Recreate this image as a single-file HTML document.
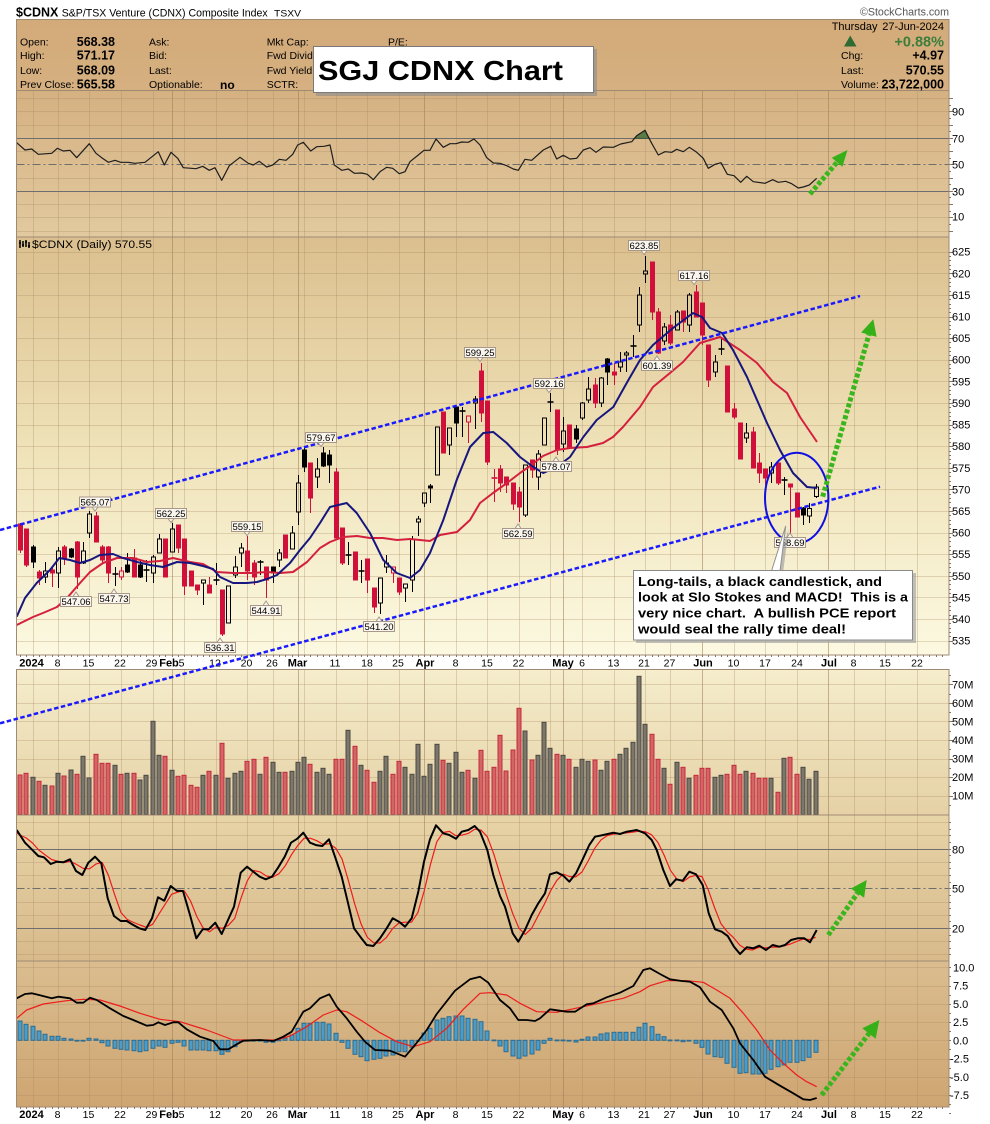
<!DOCTYPE html>
<html><head><meta charset="utf-8">
<style>
html,body{margin:0;padding:0;background:#fff;width:990px;height:1124px;overflow:hidden}
svg{display:block}
text{font-family:"Liberation Sans",Arial,sans-serif;fill:#000}
.ax{font-size:11px}
.dl{font-size:10.5px}
.mb{font-size:11px;font-weight:bold}
.hl{font-size:10.5px}
.hv{font-size:12.5px;font-weight:bold}
.lb{font-size:9.5px}
.co{font-size:13px;font-weight:bold}
</style></head><body>
<svg id="c" xmlns="http://www.w3.org/2000/svg" width="990" height="1124" viewBox="0 0 990 1124">
<defs>
<linearGradient id="gH" x1="0" y1="0" x2="0" y2="1"><stop offset="0" stop-color="#d3aa79"/><stop offset="1" stop-color="#d6b081"/></linearGradient>
<linearGradient id="gR" x1="0" y1="0" x2="0" y2="1"><stop offset="0" stop-color="#d5b181"/><stop offset="1" stop-color="#e2c99f"/></linearGradient>
<linearGradient id="gP" x1="0" y1="0" x2="0" y2="1"><stop offset="0" stop-color="#dbbf8e"/><stop offset="0.5" stop-color="#efe2b8"/><stop offset="1" stop-color="#fcf9e1"/></linearGradient>
<linearGradient id="gV" x1="0" y1="0" x2="0" y2="1"><stop offset="0" stop-color="#f5edcc"/><stop offset="1" stop-color="#e5d1a5"/></linearGradient>
<linearGradient id="gS" x1="0" y1="0" x2="0" y2="1"><stop offset="0" stop-color="#e7d4a7"/><stop offset="1" stop-color="#d8ba8b"/></linearGradient>
<linearGradient id="gM" x1="0" y1="0" x2="0" y2="1"><stop offset="0" stop-color="#dabd8f"/><stop offset="1" stop-color="#cea572"/></linearGradient>
</defs>

<!-- panel backgrounds -->
<rect x="16.5" y="19.5" width="932.5" height="71" fill="url(#gH)"/>
<rect x="16.5" y="90.5" width="932.5" height="146.5" fill="url(#gR)"/>
<rect x="16.5" y="237" width="932.5" height="418" fill="url(#gP)"/>
<rect x="16.5" y="669.5" width="932.5" height="145.5" fill="url(#gV)"/>
<rect x="16.5" y="815" width="932.5" height="146" fill="url(#gS)"/>
<rect x="16.5" y="961" width="932.5" height="146" fill="url(#gM)"/>

<g id="grid"></g>

<!-- level lines -->
<g stroke="#6e6e6e" stroke-width="1">
<line x1="16.5" x2="949" y1="138.5" y2="138.5"/>
<line x1="16.5" x2="949" y1="191.5" y2="191.5"/>
<line x1="16.5" x2="949" y1="164.5" y2="164.5" stroke-dasharray="8 3 2 3"/>
<line x1="16.5" x2="949" y1="849.5" y2="849.5"/>
<line x1="16.5" x2="949" y1="928.5" y2="928.5"/>
<line x1="16.5" x2="949" y1="888.5" y2="888.5" stroke-dasharray="8 3 2 3"/>
</g>
<polygon points="634.5,138.3 636.7,135.7 645,130.3 649.1,138.3" fill="#5c7a46" stroke="#3d5230" stroke-width="0.8"/>

<g id="ser"></g>
<g id="cand"></g>
<g id="ma"></g>

<!-- panel borders -->
<g fill="none" stroke="#a08a74" stroke-width="1">
<rect x="16.5" y="19.5" width="932.5" height="71"/>
<rect x="16.5" y="90.5" width="932.5" height="146.5"/>
<rect x="16.5" y="237" width="932.5" height="418"/>
<rect x="16.5" y="669.5" width="932.5" height="145.5"/>
<rect x="16.5" y="815" width="932.5" height="146"/>
<rect x="16.5" y="961" width="932.5" height="146"/>
</g>
<g id="ticks"></g>

<!-- right axis labels -->
<g class="ax">
<text x="952" y="115.7">90</text><text x="952" y="142.3">70</text><text x="952" y="168.3">50</text><text x="952" y="195.3">30</text><text x="952" y="220.7">10</text>
<text x="952" y="255.7">625</text><text x="952" y="277.3">620</text><text x="952" y="298.9">615</text><text x="952" y="320.5">610</text><text x="952" y="342.1">605</text><text x="952" y="363.7">600</text><text x="952" y="385.4">595</text><text x="952" y="407">590</text><text x="952" y="428.6">585</text><text x="952" y="450.2">580</text><text x="952" y="471.8">575</text><text x="952" y="493.4">570</text><text x="952" y="515">565</text><text x="952" y="536.6">560</text><text x="952" y="558.2">555</text><text x="952" y="579.8">550</text><text x="952" y="601.5">545</text><text x="952" y="623.1">540</text><text x="952" y="644.7">535</text>
<text x="952" y="688.3">70M</text><text x="952" y="706.9">60M</text><text x="952" y="725.4">50M</text><text x="952" y="744">40M</text><text x="952" y="762.6">30M</text><text x="952" y="781.1">20M</text><text x="952" y="799.7">10M</text>
<text x="952" y="853.3">80</text><text x="952" y="892.3">50</text><text x="952" y="932.3">20</text>
<text x="953" y="971.3">10.0</text><text x="953" y="989.6">7.5</text><text x="953" y="1007.8">5.0</text><text x="953" y="1026.1">2.5</text><text x="953" y="1044.3">0.0</text><text x="950" y="1062.6">-2.5</text><text x="950" y="1080.8">-5.0</text><text x="950" y="1099.1">-7.5</text>
</g>

<!-- date labels (middle row) -->
<g text-anchor="middle">
<text class="mb" x="31.5" y="666.5">2024</text><text class="dl" x="57.5" y="666.5">8</text><text class="dl" x="88.5" y="666.5">15</text><text class="dl" x="120" y="666.5">22</text><text class="dl" x="151.5" y="666.5">29</text><text class="mb" x="169" y="666.5">Feb</text><text class="dl" x="181.5" y="666.5">5</text><text class="dl" x="215" y="666.5">12</text><text class="dl" x="246.5" y="666.5">20</text><text class="dl" x="272" y="666.5">26</text><text class="mb" x="297.5" y="666.5">Mar</text><text class="dl" x="335" y="666.5">11</text><text class="dl" x="367" y="666.5">18</text><text class="dl" x="398" y="666.5">25</text><text class="mb" x="425" y="666.5">Apr</text><text class="dl" x="455.5" y="666.5">8</text><text class="dl" x="487" y="666.5">15</text><text class="dl" x="518.5" y="666.5">22</text><text class="mb" x="563" y="666.5">May</text><text class="dl" x="582" y="666.5">6</text><text class="dl" x="613.5" y="666.5">13</text><text class="dl" x="644" y="666.5">21</text><text class="dl" x="669.5" y="666.5">27</text><text class="mb" x="703" y="666.5">Jun</text><text class="dl" x="733.5" y="666.5">10</text><text class="dl" x="765" y="666.5">17</text><text class="dl" x="797" y="666.5">24</text><text class="mb" x="829" y="666.5">Jul</text><text class="dl" x="853.5" y="666.5">8</text><text class="dl" x="885" y="666.5">15</text><text class="dl" x="917" y="666.5">22</text>
</g>
<!-- date labels (bottom row) -->
<g text-anchor="middle">
<text class="mb" x="31.5" y="1118">2024</text><text class="dl" x="57.5" y="1118">8</text><text class="dl" x="88.5" y="1118">15</text><text class="dl" x="120" y="1118">22</text><text class="dl" x="151.5" y="1118">29</text><text class="mb" x="169" y="1118">Feb</text><text class="dl" x="181.5" y="1118">5</text><text class="dl" x="215" y="1118">12</text><text class="dl" x="246.5" y="1118">20</text><text class="dl" x="272" y="1118">26</text><text class="mb" x="297.5" y="1118">Mar</text><text class="dl" x="335" y="1118">11</text><text class="dl" x="367" y="1118">18</text><text class="dl" x="398" y="1118">25</text><text class="mb" x="425" y="1118">Apr</text><text class="dl" x="455.5" y="1118">8</text><text class="dl" x="487" y="1118">15</text><text class="dl" x="518.5" y="1118">22</text><text class="mb" x="563" y="1118">May</text><text class="dl" x="582" y="1118">6</text><text class="dl" x="613.5" y="1118">13</text><text class="dl" x="644" y="1118">21</text><text class="dl" x="669.5" y="1118">27</text><text class="mb" x="703" y="1118">Jun</text><text class="dl" x="733.5" y="1118">10</text><text class="dl" x="765" y="1118">17</text><text class="dl" x="797" y="1118">24</text><text class="mb" x="829" y="1118">Jul</text><text class="dl" x="853.5" y="1118">8</text><text class="dl" x="885" y="1118">15</text><text class="dl" x="917" y="1118">22</text>
</g>

<!-- price panel legend -->
<path d="M20 240v8M23 241v6M26 240v7M29 242v6M19 243h2M22 245h2M25 242h2M28 246h2" stroke="#000" stroke-width="1.5"/>
<text x="32" y="248" style="font-size:11px" textLength="120" lengthAdjust="spacingAndGlyphs">$CDNX (Daily) 570.55</text>

<!-- trend lines -->
<g stroke="#1a1aff" stroke-width="2.5" stroke-dasharray="4.5 2.5" fill="none">
<line x1="0" y1="530" x2="860" y2="296"/>
<line x1="0" y1="723.3" x2="880" y2="486.7"/>
</g>
<ellipse cx="796.7" cy="498" rx="31.7" ry="45.3" fill="none" stroke="#1010e0" stroke-width="2"/>

<!-- price labels -->
<g id="lbls">
<g><rect x="79.5" y="497" width="31" height="10" fill="#faf6ee" stroke="#a8988a"/><polygon points="92,507 98,507 95,511" fill="#faf6ee" stroke="#a8988a"/><text class="lb" x="95" y="505.5" text-anchor="middle">565.07</text></g>
<g><rect x="60.5" y="596.5" width="31" height="10" fill="#faf6ee" stroke="#a8988a"/><polygon points="73,596.5 79,596.5 76,592" fill="#faf6ee" stroke="#a8988a"/><text class="lb" x="76" y="605" text-anchor="middle">547.06</text></g>
<g><rect x="98.5" y="593.5" width="31" height="10" fill="#faf6ee" stroke="#a8988a"/><polygon points="111,593.5 117,593.5 114,589" fill="#faf6ee" stroke="#a8988a"/><text class="lb" x="114" y="602" text-anchor="middle">547.73</text></g>
<g><rect x="155.5" y="508.5" width="31" height="10" fill="#faf6ee" stroke="#a8988a"/><polygon points="168,518.5 174,518.5 171,522.5" fill="#faf6ee" stroke="#a8988a"/><text class="lb" x="171" y="517" text-anchor="middle">562.25</text></g>
<g><rect x="231.5" y="521.5" width="31" height="10" fill="#faf6ee" stroke="#a8988a"/><polygon points="244,531.5 250,531.5 247,535.5" fill="#faf6ee" stroke="#a8988a"/><text class="lb" x="247" y="530" text-anchor="middle">559.15</text></g>
<g><rect x="204.5" y="642.5" width="31" height="10" fill="#faf6ee" stroke="#a8988a"/><polygon points="217,642.5 223,642.5 220,638" fill="#faf6ee" stroke="#a8988a"/><text class="lb" x="220" y="651" text-anchor="middle">536.31</text></g>
<g><rect x="250.5" y="605.5" width="31" height="10" fill="#faf6ee" stroke="#a8988a"/><polygon points="263,605.5 269,605.5 266,601" fill="#faf6ee" stroke="#a8988a"/><text class="lb" x="266" y="614" text-anchor="middle">544.91</text></g>
<g><rect x="305.5" y="432.5" width="31" height="10" fill="#faf6ee" stroke="#a8988a"/><polygon points="318,442.5 324,442.5 321,446.5" fill="#faf6ee" stroke="#a8988a"/><text class="lb" x="321" y="441" text-anchor="middle">579.67</text></g>
<g><rect x="363.5" y="621.5" width="31" height="10" fill="#faf6ee" stroke="#a8988a"/><polygon points="376,621.5 382,621.5 379,617" fill="#faf6ee" stroke="#a8988a"/><text class="lb" x="379" y="630" text-anchor="middle">541.20</text></g>
<g><rect x="464.5" y="347.5" width="31" height="10" fill="#faf6ee" stroke="#a8988a"/><polygon points="477,357.5 483,357.5 480,361.5" fill="#faf6ee" stroke="#a8988a"/><text class="lb" x="480" y="356" text-anchor="middle">599.25</text></g>
<g><rect x="533.5" y="378.5" width="31" height="10" fill="#faf6ee" stroke="#a8988a"/><polygon points="546,388.5 552,388.5 549,392.5" fill="#faf6ee" stroke="#a8988a"/><text class="lb" x="549" y="387" text-anchor="middle">592.16</text></g>
<g><rect x="540.5" y="461.5" width="31" height="10" fill="#faf6ee" stroke="#a8988a"/><polygon points="553,461.5 559,461.5 556,457" fill="#faf6ee" stroke="#a8988a"/><text class="lb" x="556" y="470" text-anchor="middle">578.07</text></g>
<g><rect x="502.5" y="528.5" width="31" height="10" fill="#faf6ee" stroke="#a8988a"/><polygon points="515,528.5 521,528.5 518,524" fill="#faf6ee" stroke="#a8988a"/><text class="lb" x="518" y="537" text-anchor="middle">562.59</text></g>
<g><rect x="628.5" y="240.5" width="31" height="10" fill="#faf6ee" stroke="#a8988a"/><polygon points="641,250.5 647,250.5 644,254.5" fill="#faf6ee" stroke="#a8988a"/><text class="lb" x="644" y="249" text-anchor="middle">623.85</text></g>
<g><rect x="641.5" y="360.5" width="31" height="10" fill="#faf6ee" stroke="#a8988a"/><polygon points="654,360.5 660,360.5 657,356" fill="#faf6ee" stroke="#a8988a"/><text class="lb" x="657" y="369" text-anchor="middle">601.39</text></g>
<g><rect x="678.5" y="270.5" width="31" height="10" fill="#faf6ee" stroke="#a8988a"/><polygon points="691,280.5 697,280.5 694,284.5" fill="#faf6ee" stroke="#a8988a"/><text class="lb" x="694" y="279" text-anchor="middle">617.16</text></g>
<g><rect x="774.5" y="537.5" width="31" height="10" fill="#faf6ee" stroke="#a8988a"/><polygon points="787,537.5 793,537.5 790,533" fill="#faf6ee" stroke="#a8988a"/><text class="lb" x="790" y="546" text-anchor="middle">558.69</text></g>
</g>

<!-- callout -->
<polygon points="774.5,573 783,573 788.7,529" fill="#9a9a9a" opacity="0.6"/>
<polygon points="771.5,571 780,571 785.7,526" fill="#fff" stroke="#909090" stroke-width="1"/>
<rect x="636" y="573" width="280" height="70" fill="#a8a8a8" opacity="0.7"/>
<rect x="633.5" y="570.5" width="279" height="69.5" fill="#fff" stroke="#8a8a8a" stroke-width="1"/>
<text class="co" x="638" y="586" textLength="244" lengthAdjust="spacingAndGlyphs">Long-tails, a black candlestick, and</text>
<text class="co" x="638" y="601.5" textLength="270" lengthAdjust="spacingAndGlyphs" xml:space="preserve">look at Slo Stokes and MACD!  This is a</text>
<text class="co" x="638" y="617.5" textLength="258" lengthAdjust="spacingAndGlyphs" xml:space="preserve">very nice chart.  A bullish PCE report</text>
<text class="co" x="638" y="633.5" textLength="208" lengthAdjust="spacingAndGlyphs">would seal the rally time deal!</text>

<!-- green arrows -->
<g stroke="#3ab51c" stroke-width="5" stroke-dasharray="4 2.2" fill="none">
<line x1="810" y1="194" x2="837.1" y2="162.2"/>
<line x1="822.7" y1="496.7" x2="868.9" y2="334.7"/>
<line x1="828.3" y1="935" x2="857.5" y2="893.1"/>
<line x1="821.7" y1="1095" x2="869" y2="1033.5"/>
</g>
<g fill="#35b018">
<polygon points="847.5,150 842.4,166.7 831.8,157.7"/>
<polygon points="873.3,319.3 876.6,336.9 861.2,332.5"/>
<polygon points="866.7,880 864.1,897.7 850.9,888.5"/>
<polygon points="879.3,1020 875.7,1038.7 862.3,1028.3"/>
</g>

<!-- title -->
<text x="16" y="16.5" style="font-size:12.5px;font-weight:bold">$CDNX</text>
<text x="61.7" y="16.5" style="font-size:11px" textLength="206" lengthAdjust="spacingAndGlyphs">S&amp;P/TSX Venture (CDNX) Composite Index</text>
<text x="274" y="16.5" style="font-size:9.5px" textLength="27" lengthAdjust="spacingAndGlyphs">TSXV</text>
<text x="860" y="15.5" style="font-size:10.7px;fill:#555" textLength="89" lengthAdjust="spacingAndGlyphs">©StockCharts.com</text>

<!-- header left -->
<text class="hl" x="20" y="45.5">Open:</text><text class="hv" x="115" y="46" text-anchor="end">568.38</text>
<text class="hl" x="20" y="59">High:</text><text class="hv" x="115" y="59.5" text-anchor="end">571.17</text>
<text class="hl" x="20" y="74">Low:</text><text class="hv" x="115" y="74.5" text-anchor="end">568.09</text>
<text class="hl" x="20" y="88">Prev Close:</text><text class="hv" x="115" y="88.5" text-anchor="end">565.58</text>
<text class="hl" x="149" y="45.5">Ask:</text>
<text class="hl" x="149" y="59">Bid:</text>
<text class="hl" x="149" y="74">Last:</text>
<text class="hl" x="149" y="88">Optionable:</text><text class="hv" x="220" y="89" style="font-size:12px">no</text>
<text class="hl" x="266.7" y="45.5">Mkt Cap:</text>
<text class="hl" x="266.7" y="59">Fwd Dividend:</text>
<text class="hl" x="266.7" y="74">Fwd Yield:</text>
<text class="hl" x="266.7" y="88">SCTR:</text>
<text class="hl" x="388" y="45.5">P/E:</text>

<!-- header right -->
<text x="831.7" y="30" style="font-size:11px">Thursday</text>
<text x="944" y="30" style="font-size:11px" text-anchor="end">27-Jun-2024</text>
<polygon points="844,46.5 856.5,46.5 850.25,35.5" fill="#2f6a30"/>
<text x="944" y="46.5" text-anchor="end" style="font-size:14.5px;font-weight:bold;fill:#3b7d3b">+0.88%</text>
<text class="hl" x="841" y="59">Chg:</text><text class="hv" x="944" y="59.5" text-anchor="end">+4.97</text>
<text class="hl" x="841" y="74">Last:</text><text class="hv" x="944" y="74.5" text-anchor="end">570.55</text>
<text class="hl" x="841" y="88">Volume:</text><text class="hv" x="944" y="88.5" text-anchor="end">23,722,000</text>

<!-- SGJ box -->
<rect x="316" y="49" width="281" height="47" fill="#8c8c8c" opacity="0.6"/>
<rect x="313.5" y="46.5" width="280" height="46" fill="#fff" stroke="#7a7a7a"/>
<text x="318" y="80" style="font-size:28px;font-weight:bold" textLength="245" lengthAdjust="spacingAndGlyphs">SGJ CDNX Chart</text>
</svg>

<script>
(function(){
var NS="http://www.w3.org/2000/svg";
function E(p,t,a){var e=document.createElementNS(NS,t);for(var k in a)e.setAttribute(k,a[k]);document.getElementById(p).appendChild(e);return e;}
function X(k){return 20+6.315*k;}
function GX(i){return 32.63+6.315*i;}
function R(v){return Math.round(v)+0.5;}
// vertical grid
var panels=[[90.5,237],[237,655],[669.5,815],[815,961],[961,1107]];
var wk=[0,4,9,14,19,24,29,34,38,43,48,53,58,67,72,77,82,87,92,97,101,111,116,121,130,135,140];
var mo=[22,42,62,84,106,126];
panels.forEach(function(p){
 wk.forEach(function(i){var x=R(GX(i));E('grid','line',{x1:x,x2:x,y1:p[0],y2:p[1],stroke:'#a8895f','stroke-opacity':0.32});});
 mo.forEach(function(i){var x=R(GX(i));E('grid','line',{x1:x,x2:x,y1:p[0],y2:p[1],stroke:'#9a7d58','stroke-opacity':0.55});});
});
function H(y){y=R(y);E('grid','line',{x1:16.5,x2:949,y1:y,y2:y,stroke:'#a8895f','stroke-opacity':0.3});}
var v;
for(v=0;v<=100;v+=10){if(v!=30&&v!=50&&v!=70){var y=164.3-(v-50)*1.325;if(y>91&&y<236)H(y);}}
for(v=535;v<=625;v+=5)H(251.7+(625-v)*4.322);
for(v=10;v<=70;v+=10)H(814.3-v*1.857);
for(v=0;v<=100;v+=10){if(v!=20&&v!=50&&v!=80){var y2=888.3-(v-50)*1.322;if(y2>816&&y2<960)H(y2);}}
for(v=-10;v<=10;v+=2.5){var y3=1040.3-v*7.3;if(y3>962&&y3<1106)H(y3);}
// right axis ticks
function T(y,l){y=R(y);E('ticks','line',{x1:949,x2:949+l,y1:y,y2:y,stroke:'#8a7560'});}
for(v=535;v<=625;v++)T(251.7+(625-v)*4.322,v%5==0?4:2);
for(v=0;v<=100;v+=5)T(164.3-(v-50)*1.325,v%10==0?4:2);
for(v=5;v<=75;v+=5)T(814.3-v*1.857,v%10==0?4:2);
for(v=0;v<=100;v+=5)T(888.3-(v-50)*1.322,2);
for(v=-10;v<=10;v+=1.25)T(1040.3-v*7.3,2);
for(var d=-2;d<=145;d++){var tx=R(GX(d));if(tx>17&&tx<948){E('ticks','line',{x1:tx,x2:tx,y1:655,y2:657,stroke:'#8a7560'});E('ticks','line',{x1:tx,x2:tx,y1:1107,y2:1109,stroke:'#8a7560'});}}

// RSI
var rsi="16.7,142.7 25,150 31.7,149 38.3,154.3 51.7,153.3 57.3,148.3 63.3,151 70,150.3 76.7,157.7 89.3,143.7 96,153.3 101.7,157.7 108.3,162.3 115,160.3 120.7,162.3 128.3,162.3 135,163.3 145,162.3 158.3,151.7 164.3,165 171,152.3 177.7,158.3 183.3,167.7 196,168.7 202.7,166.3 209.3,170.3 215,167.7 221.7,180.3 229.3,165.7 240,157.3 248.3,163.3 253.3,165 259.3,161.3 266.7,167 272.7,165 279.3,159.3 286,160.3 292.7,154.3 297.7,145 303.3,142.3 310.7,151 316.7,146.7 324,146.3 330,145 334.3,165 341.7,170.3 348.3,169 354.3,173.3 361.7,173 367.3,174.3 373.3,179.7 380,171.7 386.7,167.3 392.7,168.3 399.3,173.7 405,171.7 410,161.7 418.3,155 424,150.3 430,150.3 436,139 443.3,147.3 450,143.7 456,143.7 461.7,142 468.3,142.3 474,139 480,145 486.7,157.7 493.3,163 500,163.3 506.7,165.7 513.3,169 518.3,170.3 525,159.3 531.7,160.3 543.3,150 550.7,146.3 556.7,159 563.3,155.3 570,159 576.7,158.3 583.3,150 590,147.7 596,152.3 603.3,147 613.3,147.3 620.7,144 631.7,141.7 636.7,135.7 645,130.3 651.7,143.3 658.3,155 665,151.7 671.7,152.3 676.7,149.3 683.3,151.7 689.3,147.3 696.7,152.3 703.3,158.3 708.3,168.3 715,164.3 721,162.7 727.3,174.3 734,175.7 740.7,182.3 746.7,176.3 753.3,181.7 765,183.3 772.7,179.7 778.3,182.3 785.7,181.3 791.7,183.7 798.3,188 803.3,187 809.3,185 816.7,178.3";
E('ser','polyline',{points:rsi,fill:'none',stroke:'#1e1e1e','stroke-width':1.2,'stroke-linejoin':'round'});

// Volume
var vol="r775 r773.3 g777.3 r781.3 g785.3 r786 g773.3 r776 g770 r774.3 g756.3 g778 r754.3 r763.3 r763.3 g765.3 r774.3 g773.3 r773.3 g780 g775.3 g721.3 g755.3 r756.3 g770.3 r776.3 r775.3 r785.3 r787.3 g775.3 r771.3 g775.3 r743.3 g778.3 g773.3 g771.3 r761.3 r759.3 g774.3 r757.3 g762.3 g772.3 r772.3 g771.3 g762.3 g757.3 r764.3 g772.3 g768.3 g774.3 r759.3 r759.3 g730.3 r746.3 g765.3 r770.3 r782.3 g771.3 g756.3 r774.3 r761.3 g767.3 g774.3 g744.3 g776.3 g764.3 g744.3 r760.3 g763.3 g752.3 g772.3 r770.3 g778.3 r750.3 r771.3 r767.3 r735.3 r771 r750 r708.3 g731 r760 g755.3 g722.3 g748.3 r754.3 g755.3 r759.3 g767.3 g759.3 g761.3 r760 g770.3 g761.3 r759.3 g754.3 g748.3 g742.3 g676.3 g724.3 r734.3 r759.3 g768.3 r784.3 g762.3 r767.3 g778.3 r775.3 r768.3 r768.3 g777.3 g775.3 r774.3 r765.3 r774.3 g771.3 r773.3 r778.3 r778.3 g778.3 r792.3 g758.3 r757.3 r774.3 g767.3 g779.3 g771.3".split(' ');
vol.forEach(function(s,k){var c=s.charAt(0),t=+s.substr(1);var x=Math.round(X(k))-2;
 E('ser','rect',{x:x,y:t,width:4,height:(814.5-t),fill:c=='r'?'#d26565':'#7c766b',stroke:c=='r'?'#c42a3c':'#4c4843','stroke-width':1});});

// MACD histogram
var mh="1021 1024.3 1026.3 1031 1034.3 1036.3 1036.3 1038.3 1039 1041 1041 1038.3 1039 1042.7 1046 1048.3 1049.3 1050 1050.7 1051.7 1050.7 1048.3 1046 1047.3 1043.3 1042.3 1046 1050 1050 1050 1050.7 1050.7 1054.3 1051.7 1046.7 1041.7 1040.7 1040.7 1040.5 1042.3 1042.3 1040 1038.3 1035 1028.3 1023.3 1023.3 1022.3 1022.3 1024 1033.3 1042.3 1048.3 1054.3 1056.7 1060.7 1059.3 1058.3 1056 1055 1051.7 1051.7 1047.3 1040.7 1033 1028.3 1020 1018.3 1016.7 1016 1016 1018.3 1019.3 1021.7 1031 1040 1046 1051.7 1056 1058.3 1056 1054 1050 1043.3 1038.3 1040 1040 1040.7 1042 1039.3 1037 1037 1034 1033 1032.3 1032.3 1032.3 1032.3 1027.3 1023.3 1026.7 1034.3 1036.7 1040 1040 1041.7 1040.7 1043.3 1047.3 1054 1056.7 1057.3 1063.3 1067.3 1073.3 1072.7 1074 1074 1073.3 1069.3 1066.7 1065 1062.3 1062.3 1060.7 1057.3 1052.3".split(' ');
var Z=1040.3;
mh.forEach(function(s,k){var t=+s;var x=Math.round(X(k))-2;var y0=Math.min(t,Z),h=Math.abs(t-Z);if(h<0.8)h=0.8;
 E('ser','rect',{x:x,y:y0,width:4,height:h,fill:'#4b9cc7',stroke:'#2b6d93','stroke-width':1});});

// Stochastics
var sk="16.7,830 25,842.7 31.7,849.3 38.3,856 44,857.3 50.7,864 56.7,861.7 63.3,862.3 70,859.3 76,871 82.3,875 88.3,862.7 95,856.7 101.3,863.3 107.7,898.3 114,916 120.7,921 126.7,921 133.3,925 139.3,928.3 145.3,930 152,918.3 158,897.3 164.3,900.7 170.7,886 176.7,890.7 183,891 190,915 196.3,938.3 202.7,929.3 208.7,929.3 215.3,922.7 221.7,934 228,920 234,906.7 240.7,872.7 247,866.7 253.3,871.7 259.7,876.7 265.7,879.3 272,876.7 278.3,867.3 284.7,856.7 291,842.7 297.3,838.7 303.3,832.7 310,842.7 316.7,845.3 322.3,846 329,839.3 335,856.7 341.7,876.7 347.7,901.7 354,928.3 361,937.7 366.7,945 373.3,946 380,938.3 386.7,928.3 392.7,918.3 399,921.7 405,926.7 411.7,918.3 418.3,891.7 424,861.7 430,839.3 436,825.3 443.3,833.3 449.3,835 456,838.7 461.7,831.7 468.3,830 474.7,826 480,831.7 487.3,850 493.3,875 500,896 505,906.7 512.7,933.3 518.3,941.7 525,930 531.7,915 538.3,903.3 545,893.3 550,874.3 556.7,872.3 563.3,875.7 569.3,881.7 576,873.3 582.7,859.3 589.3,845 595,836.7 603.3,835 613.3,832.7 620,834 626.7,831.7 636.7,830 645,833.3 651.7,840 656.7,850 663.3,870 670,886 676,879.3 682.7,880.7 689.3,871.7 696,874.3 702.7,885 708.7,913.3 715,929.3 721.7,931.7 727.7,936 734,946.7 740,954 746.7,947.3 753.3,948.3 759.3,945.7 766,950 772.7,945 779.3,946.7 785,945 791,940 797.7,938.3 804.3,938.3 810,942.3 816.7,930";
var K=sk.split(' ').map(function(p){return p.split(',').map(Number);});
function interp(pts,x){for(var i=0;i<pts.length-1;i++){if(x>=pts[i][0]&&x<=pts[i+1][0]){var t=(x-pts[i][0])/(pts[i+1][0]-pts[i][0]);return pts[i][1]+t*(pts[i+1][1]-pts[i][1]);}}return x<pts[0][0]?pts[0][1]:pts[pts.length-1][1];}
var vals=[],k;for(k=0;k<=126;k++)vals.push(interp(K,X(k)));
var D=[];D.push('16.7,'+(K[0][1]+3));
for(k=0;k<=126;k++){var a=vals[Math.max(0,k-2)],b=vals[Math.max(0,k-1)],c=vals[k];D.push(X(k).toFixed(1)+','+((a+b+c)/3).toFixed(1));}
E('ser','polyline',{points:D.join(' '),fill:'none',stroke:'#ee1c1c','stroke-width':1.2,'stroke-linejoin':'round'});
E('ser','polyline',{points:sk,fill:'none',stroke:'#000','stroke-width':2,'stroke-linejoin':'round'});

// MACD lines
var msig="16.7,1018.3 26.7,1010 43.3,1004 66.7,1000.7 83.3,999.3 100,1000 120,1006 140,1013.3 160,1019.3 180,1021.7 206.7,1030 233.3,1040 260,1040 276.7,1040 290,1036 306.7,1026.7 323.3,1015 336.7,1010 346.7,1011.7 363.3,1021.7 380,1032.7 396.7,1041.7 413.3,1046.7 430,1041.7 446.7,1028.3 463.3,1009.3 480,993.3 490,992.7 506.7,995 520,1003.3 536.7,1011.7 556.7,1012.3 583.3,1006.7 606.7,1001.7 623.3,998.3 640,991.7 650,985.7 666.7,980.7 686.7,980.7 703.3,982.3 716.7,990 730,998.3 743.3,1013.3 756.7,1030 770,1050 783.3,1063.3 796.7,1075 806.7,1081.7 816.7,1086.7";
var mline="16.7,998.3 25,994 31.7,993.3 40,995.3 51.7,998.3 58.3,996.7 70,998.3 76.7,1002.7 83.3,1002.7 90,997.7 96.7,1000 110,1008.3 123.3,1016 133.3,1020 146.7,1025.7 153.3,1025 158.3,1022.3 165,1025 173.3,1022.3 178.3,1022.3 186.7,1029.3 200,1036.7 213.3,1041 220,1049.3 228.3,1049.3 236.7,1044.3 243.3,1040.7 260,1040 273.3,1041 283.3,1036.7 291.7,1031.7 303.3,1011.7 310,1008.3 320,998.3 329.3,994.3 336.7,1006.7 346.7,1018.3 356.7,1031.7 365,1041.7 375,1050 390,1050.7 405,1056.7 415,1045 426.7,1030 436.7,1014 455,990.7 470,979.3 480,976.7 488.3,982.7 500,1000 510,1008.3 518.3,1020 526.7,1020 535,1021 540,1018.3 550,1009.3 566.7,1011.7 575,1011.7 586.7,1004.3 593.3,1003.3 606.7,997.3 620,992.7 633.3,986 643.3,970 650,968.3 660,974 670,979.3 681.7,981 690,981.7 700,987.3 710,1001.7 721.7,1010 733.3,1028.3 740,1043.3 753.3,1060 765,1076.7 780,1085.7 793.3,1093.3 803.3,1099.3 810,1100 816.7,1098";
E('ser','polyline',{points:msig,fill:'none',stroke:'#ee1c1c','stroke-width':1.2,'stroke-linejoin':'round'});
E('ser','polyline',{points:mline,fill:'none',stroke:'#000','stroke-width':1.8,'stroke-linejoin':'round'});

// Candles
var C="R 523 553 524 550|R 529 567 529 565|B 545 568 547 562|R 570 585 572 578|H 562 583 571 577|R 568 587 570 573|H 547 588 551 573|R 545 565 547 558|B 548 558 549 557|R 541 589 542 577|H 542 564 551 563|H 511 538 514 533|R 512 542 516 542|R 545 563 547 560|R 546 583 547 573|C 567 586 574 574|r 567 580 571 577|B 553 573 565 572|R 549 577 558 577|B 560 578 565 577|C 560 582 570 570|H 555 583 557 573|H 534 553 539 553|R 539 577 539 577|H 523 552 529 552|R 525 553 525 548|R 539 595 539 586|R 571 586 571 586|R 585 595 585 590|H 580 605 580 583|R 577 593 585 593|C 563 585 580 580|R 590 636 590 634|H 586 623 586 623|H 556 578 567 575|H 543 567 548 553|R 536 580 551 571|R 560 585 563 577|C 560 575 562 562|R 567 598 567 580|B 567 583 567 573|H 549 567 553 560|R 535 558 535 558|H 526 549 533 549|H 475 525 483 512|B 448 472 450 467|R 463 513 463 498|H 458 488 469 477|B 447 467 453 466|B 450 483 455 465|R 468 538 472 538|R 528 565 528 563|C 542 565 555 555|R 552 580 552 580|C 560 583 571 571|R 559 593 559 580|R 588 613 588 607|H 578 614 578 603|H 555 573 563 567|r 567 583 567 573|R 578 595 578 592|H 584 602 584 588|H 536 592 539 580|H 516 536 519 522|H 493 507 493 503|B 484 503 486 488|H 427 475 427 475|R 412 453 412 453|H 428 455 428 445|B 407 437 407 423|C 407 437 411 411|r 416 443 416 422|H 396 429 399 403|R 363 422 371 413|R 401 465 401 462|c 469 502 478 478|R 465 492 469 483|R 477 493 477 485|R 483 510 483 504|R 487 522 492 507|H 465 517 465 515|R 460 478 460 470|H 450 490 454 477|H 418 445 418 445|C 393 412 402 402|R 410 455 410 450|H 417 452 431 444|R 425 447 425 447|B 425 443 429 439|H 402 420 403 418|H 377 403 389 400|R 378 408 385 403|H 377 407 378 403|B 358 385 359 372|R 363 385 372 375|H 352 372 362 367|H 351 372 353 355|C 335 357 346 346|H 287 332 295 325|H 256 283 271 274|R 262 320 262 312|R 308 354 312 353|H 323 345 327 341|R 315 345 325 343|H 310 330 312 330|R 311 332 311 322|H 293 332 295 325|R 285 317 292 317|R 303 345 303 335|R 345 387 345 380|H 355 377 362 372|C 337 355 349 349|R 366 412 366 412|R 403 419 409 417|R 423 459 423 459|H 423 443 433 438|R 427 468 432 468|R 453 483 463 473|R 469 485 469 478|H 462 483 467 473|R 463 485 463 483|C 477 495 480 480|R 484 538 484 487|R 493 517 493 517|B 507 525 508 515|H 503 523 508.5 516|H 484 498 487 496.5".split('|');
C.forEach(function(s,k){var a=s.split(' ');var t=a[0],hi=+a[1],lo=+a[2],top=+a[3],bot=+a[4];var x=Math.round(X(k))+0.5;
 var col=(t=='R'||t=='r'||t=='c')?'#d0103a':'#000';
 if(t=='C'||t=='c'){E('cand','line',{x1:x,x2:x,y1:hi,y2:lo,stroke:col});E('cand','line',{x1:x-3,x2:x+3,y1:top,y2:top,stroke:col,'stroke-width':1.6});return;}
 E('cand','line',{x1:x,x2:x,y1:hi,y2:top,stroke:col});
 E('cand','line',{x1:x,x2:x,y1:bot,y2:lo,stroke:col});
 if(t=='H'||t=='r'){E('cand','rect',{x:x-2,y:top,width:4,height:Math.max(bot-top,1.5),fill:'none',stroke:col,'stroke-width':1});}
 else{E('cand','rect',{x:x-2.5,y:top-0.5,width:5,height:Math.max(bot-top+1,2),fill:col});}
});

// MAs
var blue="16.7,616.7 25,598 36.7,583 50,570 59.3,558 70,560 80,563 90,560 100,555 113,554 123,558 137,562 150,565 163,567 177,562 190,563 203,566 213,569 220,577 233,583 247,583 257,582 267,579 277,575 290,563 300,550 310,538 320,523 330,507 346.7,503 356.7,513 370,533 383.3,560 396.7,573 410,578 420,570 430,553 443.3,520 456.7,480 470,447 483.3,433 493.3,432 506.7,443 520,457 533.3,467 543.3,473 556.7,467 570,457 583.3,437 596.7,420 613.3,407 626.7,383 640,360 653,345 673,328 693,313 702,317 710,328 722,333 733,350 747,377 757,400 767,423 780,450 793,473 807,487 817,488";
var red="16.7,625 33,617 43,613 57,607 67,598 80,583 90,572 103,563 117,558 133,558 147,562 160,561 173,558 190,562 203,564 217,572 233,573 253,573 267,572 280,573 293,572 307,562 320,548 330,542 343,537 357,536 370,538 383,538 397,540 410,539 430,541 440,535 457,532 470,520 480,503 493,493 507,483 520,473 530,466 543,456 557,450 570,448 587,447 603,443 613,437 623,427 640,407 653,387 670,373 683,362 700,343 720,337 740,350 757,363 773,382 787,393 800,417 817,442";
E('ma','polyline',{points:red,fill:'none',stroke:'#d4203e','stroke-width':2,'stroke-linejoin':'round'});
E('ma','polyline',{points:blue,fill:'none',stroke:'#16167e','stroke-width':2,'stroke-linejoin':'round'});
})();
</script>
</body></html>
